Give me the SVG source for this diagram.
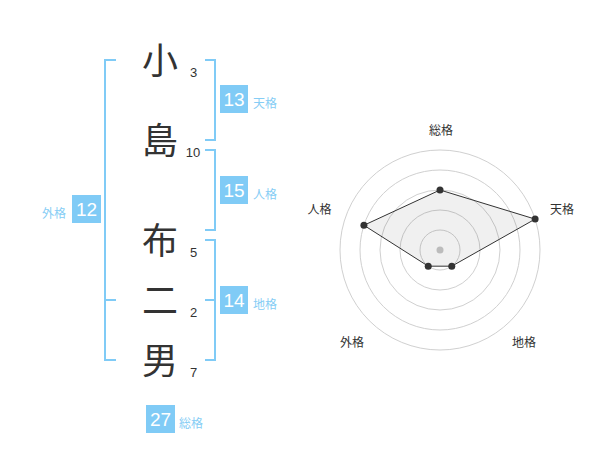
<svg xmlns="http://www.w3.org/2000/svg" width="600" height="470" viewBox="0 0 600 470">
<style>
.ch{font-family:"Noto Sans CJK JP","Noto Sans",sans-serif;font-size:36px;fill:#333;text-anchor:middle}
.sn{font-family:"Liberation Sans",Arial,sans-serif;font-size:13px;fill:#333;text-anchor:middle}
.bx{fill:#80cbf6}
.bn{font-family:"Liberation Sans",Arial,sans-serif;font-size:19px;fill:#fff;text-anchor:middle}
.lb{font-family:"Noto Sans CJK JP",sans-serif;font-size:12px;fill:#86cdf5}
.br{fill:none;stroke:#80cbf6;stroke-width:2}
.rg{fill:none;stroke:#d0d0d0;stroke-width:1}
.rl{font-family:"Noto Sans CJK JP",sans-serif;font-size:12px;fill:#333;text-anchor:middle}
.pt{fill:#333}
</style>
<rect width="600" height="470" fill="#fff"/>
<g id="connectors">
<path class="br" d="M116,60 H105 V360 H116 M105,300 H116"/>
<path class="br" d="M205,60 H215 V140 H205"/>
<path class="br" d="M205,150 H215 V230 H205"/>
<path class="br" d="M205,240 H215 V360 H205 M205,300 H215"/>
</g>
<g id="name">
<g id="c1"><text class="ch" x="160" y="73.5">小</text><text class="sn" x="193.5" y="77">3</text></g>
<g id="c2"><text class="ch" x="160" y="153.5">島</text><text class="sn" x="193" y="157">10</text></g>
<g id="c3"><text class="ch" x="160" y="253.5">布</text><text class="sn" x="193.5" y="257">5</text></g>
<g id="c4"><text class="ch" x="160" y="313.5">二</text><text class="sn" x="193.5" y="317">2</text></g>
<g id="c5"><text class="ch" x="160" y="373.5">男</text><text class="sn" x="193.5" y="377">7</text></g>
</g>
<g id="tenkaku"><rect class="bx" x="220" y="85" width="28" height="28"/><text class="bn" x="234" y="106">13</text><text class="lb" x="253" y="108">天格</text></g>
<g id="jinkaku"><rect class="bx" x="220" y="176" width="28" height="28"/><text class="bn" x="234" y="197">15</text><text class="lb" x="253" y="199">人格</text></g>
<g id="chikaku"><rect class="bx" x="220" y="286" width="28" height="28"/><text class="bn" x="234" y="307">14</text><text class="lb" x="253" y="309">地格</text></g>
<g id="gaikaku"><rect class="bx" x="72" y="195" width="29" height="28"/><text class="bn" x="86.5" y="216">12</text><text class="lb" x="42" y="218">外格</text></g>
<g id="soukaku"><rect class="bx" x="146" y="405" width="29" height="28"/><text class="bn" x="160.5" y="426">27</text><text class="lb" x="179" y="428">総格</text></g>
<g id="radar">
<circle class="rg" cx="440" cy="250" r="20"/>
<circle class="rg" cx="440" cy="250" r="40"/>
<circle class="rg" cx="440" cy="250" r="60"/>
<circle class="rg" cx="440" cy="250" r="80"/>
<circle class="rg" cx="440" cy="250" r="100"/>
<circle cx="440" cy="250" r="3.5" fill="#c8c8c8"/>
<polygon points="440,190 535.11,219.1 451.76,266.18 428.24,266.18 363.92,225.28" fill="rgba(0,0,0,0.06)" stroke="#333" stroke-width="1"/>
<circle class="pt" cx="440" cy="190" r="3.5"/>
<circle class="pt" cx="535.11" cy="219.1" r="3.5"/>
<circle class="pt" cx="451.76" cy="266.18" r="3.5"/>
<circle class="pt" cx="428.24" cy="266.18" r="3.5"/>
<circle class="pt" cx="363.92" cy="225.28" r="3.5"/>
<text class="rl" x="441" y="135">総格</text>
<text class="rl" x="562" y="213.5">天格</text>
<text class="rl" x="319.5" y="213.5">人格</text>
<text class="rl" x="352" y="346.5">外格</text>
<text class="rl" x="524" y="346.5">地格</text>
</g>
</svg>
